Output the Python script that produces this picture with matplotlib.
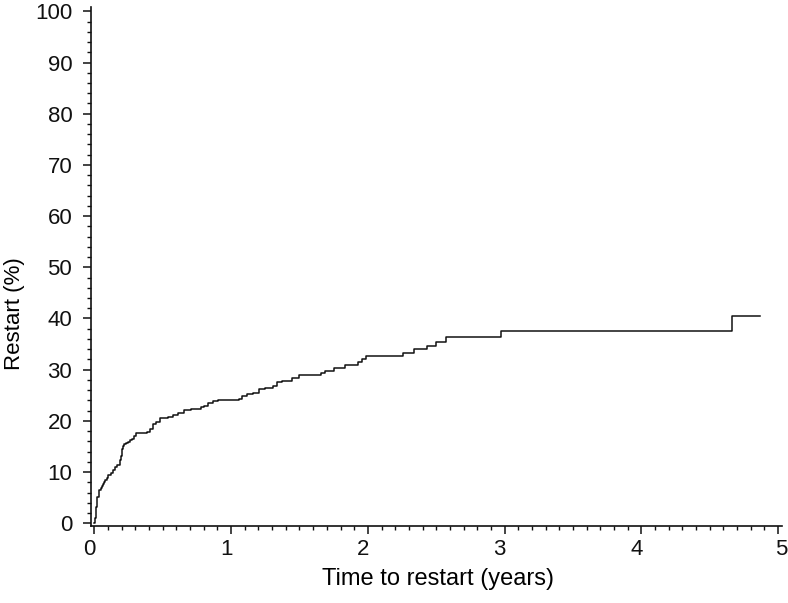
import matplotlib
matplotlib.use("Agg")
import matplotlib.pyplot as plt
from matplotlib.ticker import MultipleLocator
from matplotlib.transforms import ScaledTranslation

plt.rcParams['font.family'] = ['Liberation Sans', 'DejaVu Sans']

# Event times (years) and cumulative restart (%) - step function
times = [0, 0.005, 0.012, 0.018, 0.022, 0.03, 0.036, 0.045, 0.052, 0.061, 0.07,
         0.078, 0.09, 0.102, 0.12, 0.138, 0.15, 0.167, 0.187, 0.193, 0.199, 0.205,
         0.21, 0.216, 0.23, 0.247, 0.26, 0.272, 0.29, 0.303, 0.386, 0.41, 0.43,
         0.454, 0.478, 0.539, 0.575, 0.611, 0.653, 0.709, 0.781, 0.798, 0.83,
         0.866, 0.903, 1.06, 1.08, 1.113, 1.157, 1.206, 1.25, 1.303, 1.339, 1.37,
         1.445, 1.50, 1.66, 1.69, 1.75, 1.83, 1.925, 1.96, 1.99, 2.26, 2.34, 2.43,
         2.50, 2.57, 2.975, 4.66, 4.87]
restart = [0, 1.0, 3.2, 4.2, 5.2, 5.8, 6.4, 6.9, 7.2, 7.6, 8.0,
           8.4, 8.9, 9.4, 9.8, 10.5, 10.9, 11.3, 12.3, 13.1, 13.9, 14.6,
           15.0, 15.4, 15.7, 15.9, 16.2, 16.5, 17.0, 17.6, 17.8, 18.4, 19.4,
           19.8, 20.5, 20.7, 21.2, 21.6, 22.1, 22.3, 22.7, 23.0, 23.5,
           23.8, 24.1, 24.3, 24.9, 25.2, 25.5, 26.2, 26.5, 26.8, 27.5, 27.8,
           28.3, 29.0, 29.4, 29.8, 30.3, 31.0, 31.5, 32.0, 32.6, 33.3, 34.0, 34.6,
           35.4, 36.3, 37.5, 40.5, 40.5]

x_ticks = [0, 1, 2, 3, 4, 5]
y_ticks = [0, 10, 20, 30, 40, 50, 60, 70, 80, 90, 100]

fig = plt.figure(figsize=(7.88, 6.03), dpi=100)
ax = fig.add_axes([0.1155, 0.128, 0.877, 0.860])

ax.step(times, restart, where='post', color='#111111', linewidth=1.1)

ax.set_xlim(-0.025, 5.03)
ax.set_ylim(-0.5, 100.8)
ax.set_xticks(x_ticks)
ax.set_yticks(y_ticks)
ax.xaxis.set_minor_locator(MultipleLocator(0.1))
ax.yaxis.set_minor_locator(MultipleLocator(2))

for s in ['top', 'right']:
    ax.spines[s].set_visible(False)
for s in ['left', 'bottom']:
    ax.spines[s].set_linewidth(1.2)
    ax.spines[s].set_color('#111111')

ax.tick_params(axis='both', which='major', length=5.5, width=1.1, labelsize=16,
               direction='out', colors='#111111')
ax.tick_params(axis='x', which='major', pad=4)
ax.tick_params(axis='y', which='major', pad=8)
ax.tick_params(axis='both', which='minor', length=3, width=1.0,
               direction='out', colors='#111111')

ax.set_xlabel('Time to restart (years)', fontsize=17)
ax.set_ylabel('Restart (%)', fontsize=16)
ax.xaxis.set_label_coords(0.502, -0.082)
ax.yaxis.set_label_coords(-0.096, 0.41)

fig.canvas.draw()
for i, tick in enumerate(ax.xaxis.get_major_ticks()):
    dx = 3 if i == len(x_ticks) - 1 else -5
    lbl = tick.label1
    lbl.set_transform(lbl.get_transform() + ScaledTranslation(dx / 100, 0, fig.dpi_scale_trans))

fig.savefig('out.png', dpi=100)
